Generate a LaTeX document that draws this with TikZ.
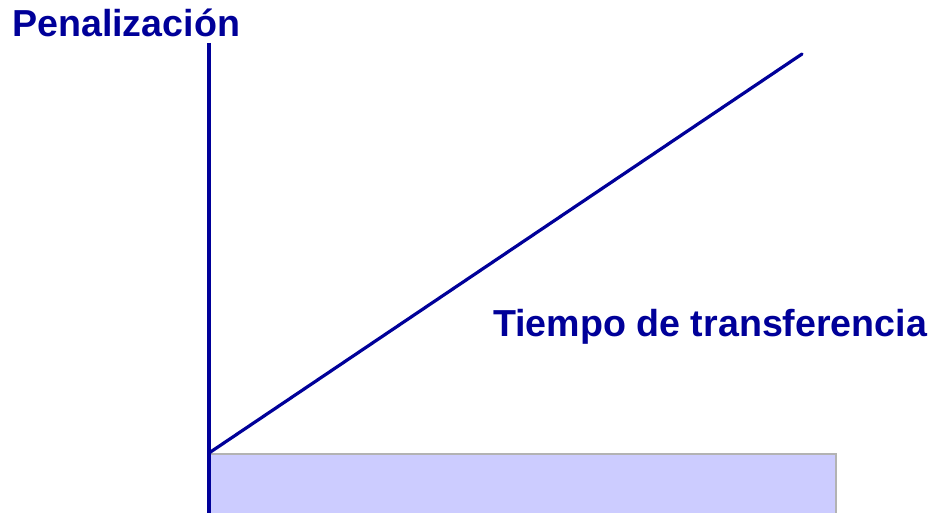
\documentclass[tikz,border=0pt]{standalone}
\usepackage{fontspec}
\setmainfont{Liberation Sans}
\definecolor{axisblue}{HTML}{000099}
\definecolor{barfill}{HTML}{CCCCFF}
\definecolor{bargray}{HTML}{B3B3B3}
\begin{document}
\begin{tikzpicture}[x=1pt,y=-1pt,
  axisline/.style={draw=axisblue,line width=3.2pt},
  lbl/.style={text=axisblue,font=\fontsize{37.6}{42}\selectfont\bfseries,inner sep=0pt,anchor=base west}]
\useasboundingbox (0,0) rectangle (928,513);
\clip (0,0) rectangle (928,513);
\fill[white] (0,0) rectangle (928,513);
\coordinate (o) at (209,453);
\coordinate (top) at (209,43);
\coordinate (bot) at (209,520);
\coordinate (end) at (802,54);
\node[draw=bargray,fill=barfill,line width=2pt,inner sep=0pt,anchor=north west,
  minimum width=626pt,minimum height=80pt] (bar) at (o) {};
\draw[axisline] (top) -- (bot);
\draw[axisline,line cap=round] (o) -- (end);
\node[lbl] (pen) at (12,37) {Penalización};
\node[lbl] (tiempo) at (493,336) {Tiempo de transferencia};
\end{tikzpicture}
\end{document}
